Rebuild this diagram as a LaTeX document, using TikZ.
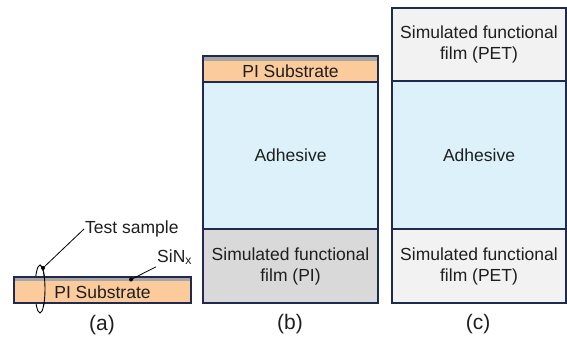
\documentclass[tikz,border=0pt]{standalone}
\usepackage{fontspec}
\setmainfont{Liberation Sans}
\usetikzlibrary{shapes.geometric}
\definecolor{navy}{HTML}{1F2A4E}
\definecolor{peach}{HTML}{FBCB9C}
\definecolor{sinx}{HTML}{A6A6A6}
\definecolor{adh}{HTML}{DDF1FA}
\definecolor{pifilm}{HTML}{D9D9D9}
\definecolor{petfilm}{HTML}{F2F2F2}
\definecolor{txt}{HTML}{1E1E1E}
\begin{document}
\begin{tikzpicture}[x=1pt,y=-1pt,
  every node/.style={font=\fontsize{17.5}{21}\selectfont, text=txt},
  layer/.style={draw=none, inner sep=0pt, outer sep=0pt, anchor=north west, align=center},
  frame/.style={draw=navy, line width=1.4pt},
  ring/.style={ellipse, draw=black, line width=0.9pt, minimum width=10pt, minimum height=48pt, inner sep=0pt},
  lead/.style={draw=black, line width=0.8pt},
  dot/.style={circle, fill=black, inner sep=0pt, minimum size=4pt},
  sublabel/.style={anchor=center, font=\fontsize{21}{24}\selectfont}]
\useasboundingbox (0,0) rectangle (567,340);

% ---------- (a) ----------
\node[ring] (ring) at (40,289) {};
\node[layer, fill=sinx, minimum width=177pt, minimum height=4pt] (aS) at (14,277) {};
\node[layer, fill=peach, minimum width=177pt, minimum height=22pt] (aPI) at (14,281) {PI Substrate};
\draw[frame] (aS.north west) rectangle (aPI.south east);
\begin{scope}
  \clip (ring.north) rectangle ([xshift=2pt]ring.south east);
  \node[ring] at (ring.center) {};
\end{scope}
\node[dot] (d1) at (43,268) {};
\node[dot] (d2) at (131,279.5) {};
\node[anchor=west, inner sep=1pt] (tsample) at (84,229) {Test sample};
\node[anchor=west, inner sep=1pt] (sinxl) at (156,257) {SiN\textsubscript{x}};
\draw[lead] (d1.center) -- (tsample.west);
\draw[lead] (d2.center) -- ([yshift=-1pt]sinxl.south west);
\node[sublabel] (la) at (102,325) {(a)};

% ---------- (b) ----------
\node[layer, fill=sinx, minimum width=175pt, minimum height=5pt] (bS) at (203,56) {};
\node[layer, fill=peach, minimum width=175pt, minimum height=21pt] (bPI) at (203,61) {PI Substrate};
\node[layer, fill=adh, minimum width=175pt, minimum height=147pt] (bA) at (203,82) {Adhesive};
\node[layer, fill=pifilm, minimum width=175pt, minimum height=74pt] (bF) at (203,229) {Simulated functional\\film (PI)};
\draw[frame] (bS.north west) rectangle (bF.south east);
\draw[frame] (bPI.south west) -- (bPI.south east);
\draw[frame] (bA.south west) -- (bA.south east);
\node[sublabel] (lb) at (290,324) {(b)};

% ---------- (c) ----------
\node[layer, fill=petfilm, minimum width=174pt, minimum height=73pt] (cT) at (392,8) {Simulated functional\\film (PET)};
\node[layer, fill=adh, minimum width=174pt, minimum height=148pt] (cA) at (392,81) {Adhesive};
\node[layer, fill=petfilm, minimum width=174pt, minimum height=74pt] (cB) at (392,229) {Simulated functional\\film (PET)};
\draw[frame] (cT.north west) rectangle (cB.south east);
\draw[frame] (cT.south west) -- (cT.south east);
\draw[frame] (cA.south west) -- (cA.south east);
\node[sublabel] (lc) at (478,324) {(c)};
\end{tikzpicture}
\end{document}
